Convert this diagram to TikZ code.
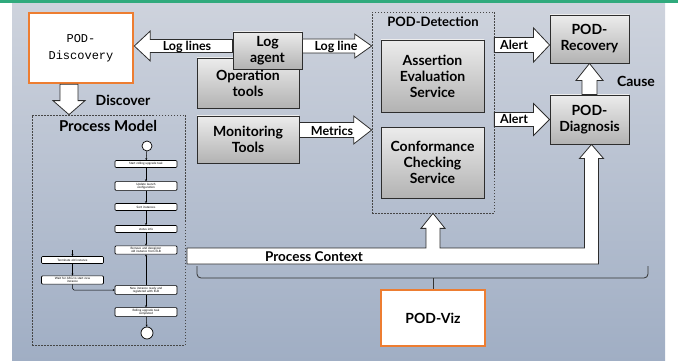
\documentclass[tikz,border=0pt]{standalone}
\usepackage{fontspec}
\setmainfont{Lato}
\newfontfamily\monof{Liberation Mono}
\usetikzlibrary{calc,shadows,arrows.meta}
\definecolor{podorange}{RGB}{237,125,49}
\definecolor{topgreen}{RGB}{48,170,125}
\definecolor{skytop}{RGB}{206,211,221}
\definecolor{skymid}{RGB}{214,218,226}
\definecolor{skybot}{RGB}{160,174,196}
\definecolor{edgec}{RGB}{45,45,45}
\tikzset{
 graybox/.style={draw=edgec, line width=0.9pt, top color=gray!15, bottom color=gray!60,
   font=\bfseries\fontsize{14}{16}\selectfont, align=center, inner sep=0pt,
   drop shadow={shadow xshift=1.2pt, shadow yshift=-1.2pt, opacity=0.3}},
 orangebox/.style={draw=podorange, line width=2.6pt, fill=white, align=center, inner sep=0pt},
 dashbox/.style={draw=gray!55!black, line width=0.7pt, dash pattern=on 1.5pt off 1.5pt},
 blockarrowst/.style={draw=edgec, line width=0.8pt, fill=white, line join=miter},
 lbl/.style={font=\bfseries\fontsize{12.5}{14}\selectfont, inner sep=0pt},
 biglbl/.style={font=\bfseries\fontsize{14}{16}\selectfont, inner sep=0pt},
 ttl/.style={font=\bfseries\fontsize{13}{15}\selectfont, inner sep=0pt},
 pmbox/.style={draw=black, line width=0.6pt, fill=white, rounded corners=1pt, minimum width=62pt,
   minimum height=7pt, inner xsep=0.4pt, inner ysep=1.2pt, font=\fontsize{3}{3.6}\selectfont,
   align=center, text width=58pt},
 pmarrow/.style={draw=black, line width=0.5pt, -{Stealth[length=2pt,width=2pt]}},
 pmcirc/.style={circle, draw=black, line width=0.7pt, fill=white, inner sep=0pt},
 bracest/.style={draw=gray!40!black, line width=0.8pt, rounded corners=4pt},
}
\newcommand\blockarrow[5]{%
 \path[blockarrowst] let \p1=#1, \p2=#2, \n1={atan2(\y2-\y1,\x2-\x1)}, \n2={veclen(\x2-\x1,\y2-\y1)} in
 [shift={(\p1)}, rotate=\n1] (0pt,-#3) -- (\n2-#5,-#3) -- (\n2-#5,-#4) -- (\n2,0pt) -- (\n2-#5,#4) -- (\n2-#5,#3) -- (0pt,#3) -- cycle;}
\begin{document}
\begin{tikzpicture}[x=1pt,y=-1pt]
\useasboundingbox (0,0) rectangle (678,361);
% background
\shade[top color=skytop, middle color=skymid, bottom color=skybot] (12,3) rectangle (665,361);
\fill[topgreen] (0,0) rectangle (678,3);

% helper coordinates
\coordinate (logy) at (0,46);
\coordinate (mety) at (0,130);
\coordinate (alry) at (0,45);
\coordinate (dscx) at (69,0);

% nodes
\node[orangebox, minimum width=104pt, minimum height=70pt, font=\monof\fontsize{12}{17}\selectfont] (disc) at (81,48) {POD-\\Discovery};
\node[graybox, minimum width=102pt, minimum height=50pt] (ops) at (248,83) {Operation\\tools};
\node[graybox, minimum width=69pt, minimum height=37pt] (agent) at (267.5,50.5) {Log\\agent};
\node[graybox, minimum width=102pt, minimum height=47pt] (mon) at (248,139.5) {Monitoring\\Tools};
\node[dashbox, minimum width=122pt, minimum height=201pt] (det) at (433,112.5) {};
\node[ttl] at (433,22) {POD-Detection};
\node[graybox, minimum width=103pt, minimum height=72pt] (ass) at (432.5,76) {Assertion\\Evaluation\\Service};
\node[graybox, minimum width=103pt, minimum height=71pt] (conf) at (432.5,162.5) {Conformance\\Checking\\Service};
\node[graybox, minimum width=79pt, minimum height=48pt] (rec) at (589.5,39) {POD-\\Recovery};
\node[graybox, minimum width=79pt, minimum height=49pt] (diag) at (589.5,119.5) {POD-\\Diagnosis};
\node[dashbox, minimum width=153pt, minimum height=230pt] (pm) at (108.5,230) {};
\node[biglbl, font=\bfseries\fontsize{15}{17}\selectfont] at (108,126) {Process Model};
\node[orangebox, minimum width=104pt, minimum height=56pt, font=\bfseries\fontsize{14}{16}\selectfont] (viz) at (433,318) {POD-Viz};

% block arrows
\blockarrow{(agent.west|-logy)}{(disc.east|-logy)}{6.5pt}{15pt}{16pt}
\node[lbl] at (187,47) {Log lines};
\blockarrow{(agent.east|-logy)}{(det.west|-logy)}{7pt}{12pt}{17pt}
\node[lbl] at (336,47) {Log line};
\blockarrow{(mon.east|-mety)}{(det.west|-mety)}{7.5pt}{14pt}{18pt}
\node[lbl] at (332,131) {Metrics};
\blockarrow{(det.east|-alry)}{(rec.west|-alry)}{7.5pt}{17pt}{16pt}
\node[lbl] at (514,45) {Alert};
\blockarrow{(det.east|-diag.west)}{(diag.west)}{7pt}{16pt}{16pt}
\node[lbl] at (514,119) {Alert};
\blockarrow{(diag.north)}{(rec.south)}{7.5pt}{13.5pt}{17pt}
\node[biglbl] at (636,81) {Cause};
\blockarrow{(dscx|-disc.south)}{(dscx|-pm.north)}{9pt}{16pt}{14pt}
\node[biglbl] at (123,100) {Discover};

% process context band
\path[blockarrowst] let \p1=(det.south), \p2=(diag.south) in
 (187pt,-248pt) -- (\x1-7pt,-248pt) -- (\x1-7pt,\y1-15pt) -- (\x1-12pt,\y1-15pt) -- (\p1)
 -- (\x1+12pt,\y1-15pt) -- (\x1+7pt,\y1-15pt) -- (\x1+7pt,-248pt) -- (\x2-5pt,-248pt)
 -- (\x2-5pt,\y2-14pt) -- (\x2-10pt,\y2-14pt) -- (\x2+2pt,\y2) -- (\x2+14pt,\y2-14pt)
 -- (\x2+9pt,\y2-14pt) -- (\x2+9pt,-264pt) -- (187pt,-264pt) -- cycle;
\node[lbl, font=\bfseries\fontsize{13.5}{15}\selectfont] at (314,256.5) {Process Context};

% brace
\draw[bracest] (197,266) -- (197,278) -- (648,278) -- (648,266);
\coordinate (bmid) at (viz.north|-0,278);
\draw[draw=gray!40!black, line width=0.8pt] (bmid) -- (viz.north);

% process model flow
\node[pmcirc, minimum size=10pt] (s) at (147,146) {};
\node[pmbox] (b1) at (146,164) {Start rolling upgrade task};
\node[pmbox] (b2) at (146,186) {Update launch\\configuration};
\node[pmbox] (b3) at (146,207) {Sort instances};
\node[pmbox] (b4) at (146,229) {status info};
\node[pmbox] (b5) at (146,250) {Remove and deregister\\old instance from ELB};
\node[pmbox] (l1) at (72.5,260) {Terminate old instance};
\node[pmbox] (l2) at (72.5,280) {Wait for ASG to start new\\instance};
\node[pmbox] (b6) at (146,290) {New instance ready and\\registered with ELB};
\node[pmbox] (b7) at (146,312) {Rolling upgrade task\\completed};
\node[pmcirc, minimum size=12pt] (e) at (147,333) {};
\coordinate (lin) at (72.5,250);
\draw[pmarrow] (s) -- (b1);
\draw[pmarrow] (b1) -- (b2);
\draw[pmarrow] (b2) -- (b3);
\draw[pmarrow] (b3) -- (b4);
\draw[pmarrow] (b4) -- (b5);
\draw[pmarrow] (lin) -- (l1);
\draw[pmarrow] (l1) -- (l2);
\draw[pmarrow, rounded corners=1.5pt] (l2.south) |- (b6.west);
\draw[pmarrow] (b6) -- (b5);
\draw[pmarrow] (b6) -- (b7);
\draw[pmarrow] (b7) -- (e);
\end{tikzpicture}
\end{document}
